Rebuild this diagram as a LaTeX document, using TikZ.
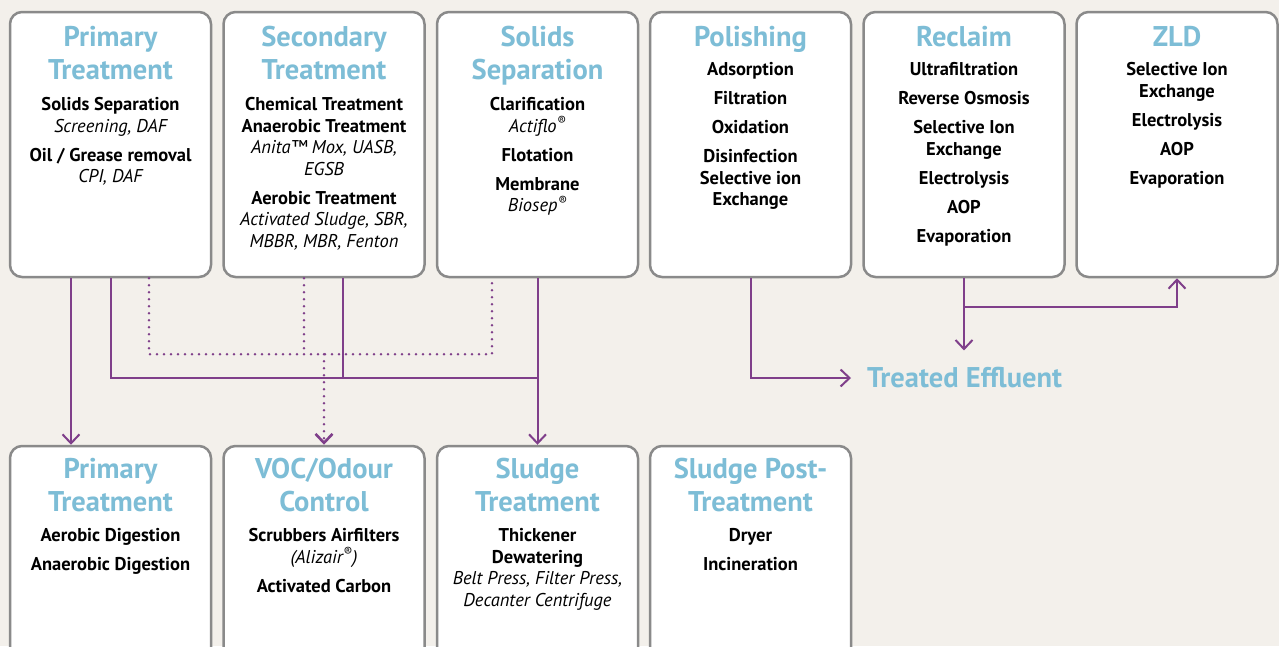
\documentclass[tikz,border=0pt]{standalone}
\usepackage{fontspec}
\setmainfont{PT Sans}
\usetikzlibrary{arrows.meta, positioning}
\definecolor{paper}{RGB}{243, 240, 235}
\definecolor{boxgray}{RGB}{138, 138, 138}
\definecolor{titleblue}{RGB}{125, 189, 214}
\definecolor{flowpurple}{RGB}{127, 63, 138}
\newcommand{\tech}[1]{{\mdseries\itshape #1}}
\newcommand{\reg}{\textsuperscript{®}}
\tikzset{
    stage/.style={draw=boxgray, line width=2.5pt, fill=white, rounded corners=12pt,
        minimum width=201pt, minimum height=265pt, inner sep=0pt},
    stagetitle/.style={anchor=north, align=center, inner sep=0pt, text=titleblue,
        font=\fontsize{28.5}{33}\selectfont\bfseries},
    stagebody/.style={anchor=north, align=center, inner sep=0pt,
        font=\fontsize{18.5}{21.5}\selectfont\bfseries},
    effluent/.style={anchor=west, inner sep=0pt, text=titleblue,
        font=\fontsize{28.5}{33}\selectfont\bfseries},
    flowline/.style={flowpurple, line width=2pt},
    flowtip/.style={-{Straight Barb[length=9pt, width=17pt]}},
    flow/.style={flowline, flowtip},
    vent/.style={flowpurple, line width=2.6pt, line cap=round, dash pattern=on 0pt off 7pt},
}

\begin{document}
\begin{tikzpicture}[x=1pt, y=-1pt]
    \useasboundingbox (0,0) rectangle (1279,646);
    \fill[paper] (0,0) rectangle (1279,646);
    \clip (0,0) rectangle (1279,646);

    % Fila superior
    \node[stage] (pt) at (110.5,144.5) {};
    \node[stage] (st) at (324,144.5) {};
    \node[stage] (ss) at (537.5,144.5) {};
    \node[stage] (pol) at (750.5,144.5) {};
    \node[stage] (rec) at (964,144.5) {};
    \node[stage] (zld) at (1177,144.5) {};

    \node[stagetitle] (pt-t) at ([yshift=-15.5pt]pt.north) {Primary\\Treatment};
    \node[stagebody] (pt-b) at ([yshift=-86.5pt]pt.north) {Solids Separation\\ \tech{Screening, DAF}\\[7.5pt]
        Oil / Grease removal\\ \tech{CPI, DAF}};

    \node[stagetitle] (st-t) at ([yshift=-15.5pt]st.north) {Secondary\\Treatment};
    \node[stagebody] (st-b) at ([yshift=-86.5pt]st.north) {Chemical Treatment\\Anaerobic Treatment\\
        \tech{Anita™ Mox, UASB,}\\ \tech{EGSB}\\[7.5pt]Aerobic Treatment\\
        \tech{Activated Sludge, SBR,}\\ \tech{MBBR, MBR, Fenton}};

    \node[stagetitle] (ss-t) at ([yshift=-15.5pt]ss.north) {Solids\\Separation};
    \node[stagebody] (ss-b) at ([yshift=-86.5pt]ss.north) {Clarification\\ \tech{Actiflo\reg}\\[7.5pt]
        Flotation\\[7.5pt]Membrane\\ \tech{Biosep\reg}};

    \node[stagetitle] (pol-t) at ([yshift=-15.5pt]pol.north) {Polishing};
    \node[stagebody] (pol-b) at ([yshift=-51.5pt]pol.north) {Adsorption\\[7.5pt]Filtration\\[7.5pt]
        Oxidation\\[7.5pt]Disinfection\\Selective ion\\Exchange};

    \node[stagetitle] (rec-t) at ([yshift=-15.5pt]rec.north) {Reclaim};
    \node[stagebody] (rec-b) at ([yshift=-51.5pt]rec.north) {Ultrafiltration\\[7.5pt]Reverse Osmosis\\[7.5pt]
        Selective Ion\\Exchange\\[7.5pt]Electrolysis\\[7.5pt]AOP\\[7.5pt]Evaporation};

    \node[stagetitle] (zld-t) at ([yshift=-15.5pt]zld.north) {ZLD};
    \node[stagebody] (zld-b) at ([yshift=-51.5pt]zld.north) {Selective Ion\\Exchange\\[7.5pt]
        Electrolysis\\[7.5pt]AOP\\[7.5pt]Evaporation};

    % Fila inferior
    \node[stage] (dig) at (110.5,578.5) {};
    \node[stage] (voc) at (324,578.5) {};
    \node[stage] (sl) at (537.5,578.5) {};
    \node[stage] (spt) at (750.5,578.5) {};

    \node[stagetitle] (dig-t) at ([yshift=-13.5pt]dig.north) {Primary\\Treatment};
    \node[stagebody] (dig-b) at ([yshift=-83.5pt]dig.north) {Aerobic Digestion\\[7.5pt]Anaerobic Digestion};

    \node[stagetitle] (voc-t) at ([yshift=-13.5pt]voc.north) {VOC/Odour\\Control};
    \node[stagebody] (voc-b) at ([yshift=-83.5pt]voc.north) {Scrubbers Airfilters\\ \tech{(Alizair\reg)}\\[7.5pt]
        Activated Carbon};

    \node[stagetitle] (sl-t) at ([yshift=-13.5pt]sl.north) {Sludge\\Treatment};
    \node[stagebody] (sl-b) at ([yshift=-83.5pt]sl.north) {Thickener\\Dewatering\\
        \tech{Belt Press, Filter Press,}\\ \tech{Decanter Centrifuge}};

    \node[stagetitle] (spt-t) at ([yshift=-13.5pt]spt.north) {Sludge Post-\\Treatment};
    \node[stagebody] (spt-b) at ([yshift=-83.5pt]spt.north) {Dryer\\[7.5pt]Incineration};

    \node[effluent] (te) at (867,378) {Treated Effluent};

    % Lodos
    \coordinate (sj) at ([yshift=-100pt]ss.south);
    \draw[flow] ([xshift=-39.5pt]pt.south) -- ([xshift=-39.5pt]dig.north);
    \draw[flowline] (pt.south) |- (sj);
    \draw[flowline] ([xshift=19pt]st.south) -- ([xshift=19pt]st.south |- sj);
    \draw[flow] (ss.south) -- (sl.north);

    % Aire
    \coordinate (vj) at ([yshift=-76pt]st.south);
    \draw[vent] ([xshift=38.5pt]pt.south) |- ([xshift=-45.5pt]ss.south |- vj) -- ([xshift=-45.5pt]ss.south);
    \draw[vent] ([xshift=-20pt]st.south) -- ([xshift=-20pt]st.south |- vj);
    \draw[vent, flowtip] (vj) -- (voc.north);

    % Agua
    \draw[flow, shorten >=16pt] (pol.south) |- (te.west);
    \draw[flow, shorten >=17pt] (rec.south) -- (rec.south |- te.north);
    \coordinate (rb) at ([yshift=-29pt]rec.south);
    \draw[flow] (rb) -| (zld.south);
\end{tikzpicture}
\end{document}
